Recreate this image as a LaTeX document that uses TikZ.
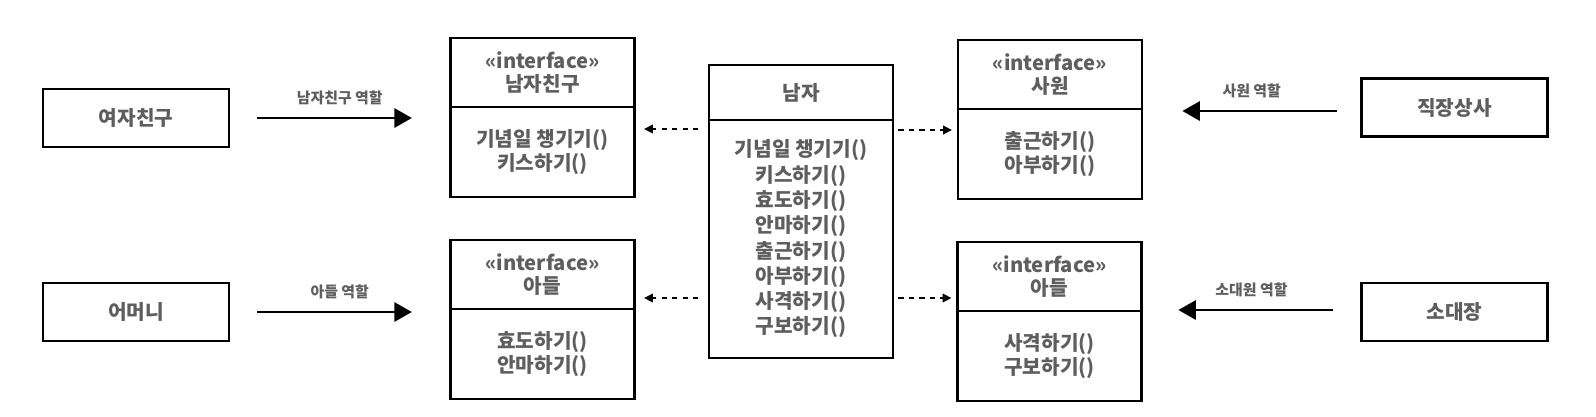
\documentclass[tikz,border=0pt]{standalone}
\usepackage{fontspec}
\setmainfont{Noto Sans CJK KR}
\usetikzlibrary{arrows.meta, positioning}
\definecolor{inkgray}{HTML}{5E5E5E}
\tikzset{
  boxline/.style={draw=black, line width=1.4pt, outer sep=0pt, inner sep=0pt,
    text=inkgray, align=center, font=\bfseries\fontsize{11.5}{13.5}\selectfont},
  rolebox/.style={boxline, minimum width=3.72cm, minimum height=1.16cm},
  ifhead/.style={boxline, minimum width=3.68cm, minimum height=1.38cm},
  ifbody/.style={boxline, minimum width=3.68cm, minimum height=1.8cm},
  rolearrow/.style={line width=1.3pt, -{Triangle[length=10pt, width=11pt]}},
  dasharrow/.style={line width=0.8pt, dash pattern=on 3pt off 3pt,
    -{Triangle[length=5pt, width=5pt]}},
  rolelabel/.style={text=inkgray, inner sep=0pt, above=7pt,
    font=\bfseries\fontsize{8.5}{10}\selectfont}
}

\begin{document}
\begin{tikzpicture}[x=0.02cm, y=-0.02cm]
        \useasboundingbox (0,0) rectangle (1596,416);
        % clients
        \node[rolebox] (girl) at (136,118) {여자친구};
        \node[rolebox] (mom) at (136,312) {어머니};
        \node[rolebox] (boss) at (1454.5,107.5) {직장상사};
        \node[rolebox] (leader) at (1454.5,312) {소대장};
        % interfaces
        \node[ifhead, anchor=north] (gfHead) at (542.5,38) {«interface»\\남자친구};
        \node[ifbody, below=0pt of gfHead] (gfBody) {기념일 챙기기()\\키스하기()};
        \node[ifhead, anchor=north] (sonHead) at (542.5,240) {«interface»\\아들};
        \node[ifbody, below=0pt of sonHead] (sonBody) {효도하기()\\안마하기()};
        \node[ifhead, anchor=north] (empHead) at (1050,40) {«interface»\\사원};
        \node[ifbody, below=0pt of empHead] (empBody) {출근하기()\\아부하기()};
        \node[ifhead, anchor=north] (soldierHead) at (1049.5,242) {«interface»\\아들};
        \node[ifbody, below=0pt of soldierHead] (soldierBody) {사격하기()\\구보하기()};
        % implementation
        \node[boxline, anchor=north, minimum width=3.68cm, minimum height=1.1cm] (manHead) at (801,65) {남자};
        \node[boxline, below=0pt of manHead, minimum width=3.68cm, minimum height=4.76cm,
          font=\bfseries\fontsize{11.5}{14.4}\selectfont] (manBody)
          {기념일 챙기기()\\키스하기()\\효도하기()\\안마하기()\\출근하기()\\아부하기()\\사격하기()\\구보하기()};
        % role arrows
        \draw[rolearrow, shorten <=16pt, shorten >=22pt] (girl.east) -- (girl.east -| gfHead.west)
          node[midway, rolelabel] {남자친구 역할};
        \draw[rolearrow, shorten <=16pt, shorten >=22pt] (mom.east) -- (mom.east -| sonBody.west)
          node[midway, rolelabel] {아들 역할};
        \draw[rolearrow, shorten <=14pt, shorten >=23pt] (boss.west |- 0,111) -- (empBody.east |- 0,111)
          node[midway, rolelabel] {사원 역할};
        \draw[rolearrow, shorten <=16pt, shorten >=21pt] (leader.west |- 0,310) -- (soldierBody.east |- 0,310)
          node[midway, rolelabel] {소대원 역할};
        % realization
        \draw[dasharrow, shorten <=6pt, shorten >=5.5pt] (manBody.west |- 0,129) -- (gfBody.east |- 0,129);
        \draw[dasharrow, shorten <=6pt, shorten >=5.5pt] (manBody.west |- 0,298) -- (sonHead.east |- 0,298);
        \draw[dasharrow, shorten <=3pt, shorten >=3.5pt] (manBody.east |- 0,130) -- (empBody.west |- 0,130);
        \draw[dasharrow, shorten <=3pt, shorten >=3.5pt] (manBody.east |- 0,298) -- (soldierHead.west |- 0,298);
\end{tikzpicture}
\end{document}
